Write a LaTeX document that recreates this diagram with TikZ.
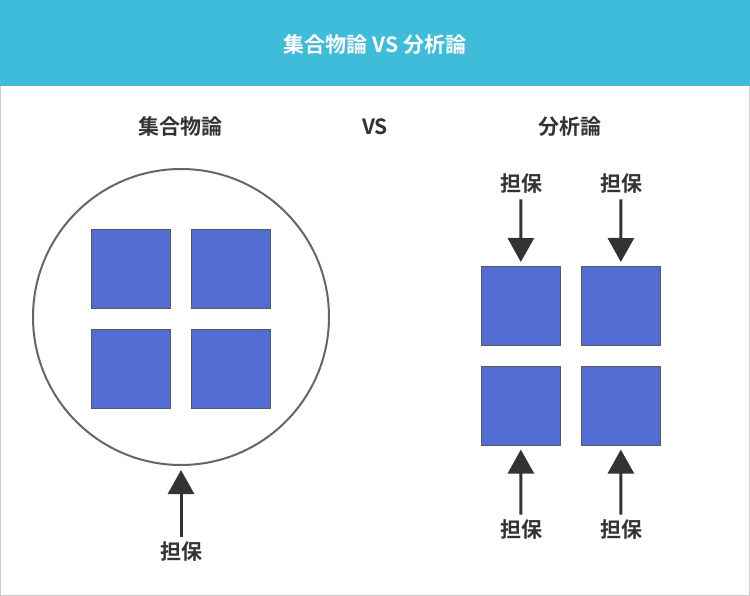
\documentclass[tikz,border=0pt]{standalone}
\usepackage{fontspec}
\setmainfont{Noto Sans CJK JP}[BoldFont={* Bold}]
\usetikzlibrary{arrows.meta}
\definecolor{head}{HTML}{3EBCD9}
\definecolor{sq}{HTML}{516CD3}
\definecolor{txt}{HTML}{333333}
\tikzset{
  x=1pt,y=-1pt,
  box/.style={draw=gray!70!black,fill=sq,line width=0.6pt,minimum size=79pt,inner sep=0,anchor=north west},
  lbl/.style={text=txt,font=\bfseries\fontsize{21}{24}\selectfont},
  arr/.style={draw=txt,line width=3pt,-{Triangle[width=26pt,length=24pt]},shorten >=4pt,shorten <=2pt}
}
\begin{document}
\begin{tikzpicture}
\useasboundingbox (0,0) rectangle (750,596);
\fill[white] (0,0) rectangle (750,596);
\draw[gray!40,line width=1pt] (0.5,0.5) rectangle (749.5,595.5);
\fill[head] (0,0) rectangle (750,86);
\node[text=white,font=\bfseries\fontsize{21}{24}\selectfont] (title) at (375,45) {集合物論 VS 分析論};
\node[lbl] (l1) at (180,127) {集合物論};
\node[lbl] (l2) at (375,127) {VS};
\node[lbl] (l3) at (570,127) {分析論};
\node[draw=gray!80!black,line width=2pt,circle,minimum size=296pt] (c) at (181,317) {};
\node[box] (a1) at (91,229) {};
\node[box] (a2) at (191,229) {};
\node[box] (a3) at (91,329) {};
\node[box] (a4) at (191,329) {};
\node[lbl] (g0) at (181,552) {担保};
\draw[arr] (g0.north) -- (c.south);
\node[box] (b1) at (481,266) {};
\node[box] (b2) at (581,266) {};
\node[box] (b3) at (481,366) {};
\node[box] (b4) at (581,366) {};
\node[lbl] (t1) at (521,184) {担保};
\node[lbl] (t2) at (621,184) {担保};
\node[lbl] (u1) at (521,530) {担保};
\node[lbl] (u2) at (621,530) {担保};
\draw[arr] (t1.south) -- (b1.north);
\draw[arr] (t2.south) -- (b2.north);
\draw[arr] (u1.north) -- (b3.south);
\draw[arr] (u2.north) -- (b4.south);
\end{tikzpicture}
\end{document}
